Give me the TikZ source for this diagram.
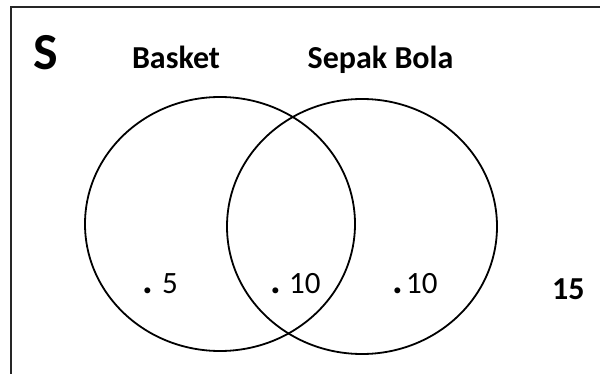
\documentclass[tikz,border=0pt]{standalone}
\usepackage{fontspec}
\setmainfont{Carlito}
\newcommand{\bigdot}{{\fontsize{40}{40}\selectfont\bfseries .}}
\begin{document}
\begin{tikzpicture}[x=1pt,y=-1pt,
  frame/.style={draw=black!85,line width=2pt},
  setline/.style={draw=black,line width=1.8pt},
  lbl/.style={inner sep=0pt,anchor=base,font=\fontsize{32}{34}\selectfont\bfseries},
  num/.style={inner sep=0pt,anchor=base west,font=\fontsize{31}{34}\selectfont}]
\useasboundingbox (0,0) rectangle (600,374);
\begin{scope}
\clip (0,0) rectangle (600,374);
\draw[frame] (11,7) rectangle (640,420);
\end{scope}
\draw[setline] (220,224) ellipse [x radius=135, y radius=127];
\draw[setline] (362,226.5) ellipse [x radius=135, y radius=127.5];
\node[inner sep=0pt,anchor=base,font=\fontsize{52}{56}\selectfont\bfseries] (S) at (46,70) {S};
\node[lbl] (basket) at (176,69) {Basket};
\node[lbl] (sepak) at (380.5,69) {Sepak Bola};
\node[num] (n5) at (142,294) {\makebox[20pt][l]{\bigdot}5};
\node[num] (n10a) at (270,294) {\makebox[19pt][l]{\bigdot}10};
\node[num] (n10b) at (392,294) {\makebox[14pt][l]{\bigdot}10};
\node[num,font=\fontsize{32}{34}\selectfont\bfseries] (n15) at (552,299) {15};
\end{tikzpicture}
\end{document}
